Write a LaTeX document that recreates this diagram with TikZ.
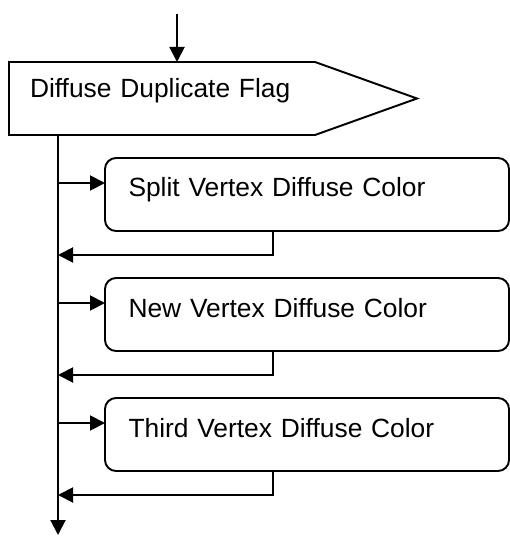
\documentclass[tikz,border=0pt]{standalone}
\usepackage{fontspec}
\setmainfont{Liberation Sans}
\usetikzlibrary{arrows.meta}

\begin{document}
\begin{tikzpicture}[
  font=\fontsize{15}{18}\selectfont,
  line width=1.1pt,
  flagbox/.style={minimum width=8.16cm,minimum height=1.46cm,inner xsep=0.42cm,outer sep=0pt,text width=7.32cm,align=left,text height=0.386cm,text depth=0.426cm},
  action/.style={draw,rounded corners=0.22cm,minimum width=8.08cm,minimum height=1.46cm,inner xsep=0.47cm,outer sep=0pt,text width=7.14cm,align=left,text height=0.386cm,text depth=0.286cm},
  flow/.style={-{Triangle[length=0.3cm,width=0.3cm]}}
]
\useasboundingbox (0,0) rectangle (10.2,-10.72);

\node[flagbox] (flag) at (4.26,-1.97) {Diffuse Duplicate Flag};
\draw (flag.north west) -- ([xshift=-2.04cm]flag.north east) -- (flag.east) -- ([xshift=-2.04cm]flag.south east) -- (flag.south west) -- cycle;

\node[action] (split) at (6.14,-3.89) {Split Vertex Diffuse Color};
\node[action] (new) at (6.14,-6.29) {New Vertex Diffuse Color};
\node[action] (third) at (6.14,-8.69) {Third Vertex Diffuse Color};

\coordinate (start) at (3.54,-0.28);
\coordinate (trunk) at (1.16,-10.7);

\draw[flow] (start) -- (start |- flag.north);
\draw[flow] (flag.south -| trunk) -- (trunk);

\draw[flow] ([yshift=0.23cm]split.west -| trunk) -- ([yshift=0.23cm]split.west);
\draw[flow] ([xshift=3.36cm]split.south west) |- ([yshift=-0.48cm]split.south -| trunk);
\draw[flow] ([yshift=0.23cm]new.west -| trunk) -- ([yshift=0.23cm]new.west);
\draw[flow] ([xshift=3.36cm]new.south west) |- ([yshift=-0.48cm]new.south -| trunk);
\draw[flow] ([yshift=0.23cm]third.west -| trunk) -- ([yshift=0.23cm]third.west);
\draw[flow] ([xshift=3.36cm]third.south west) |- ([yshift=-0.48cm]third.south -| trunk);
\end{tikzpicture}
\end{document}
